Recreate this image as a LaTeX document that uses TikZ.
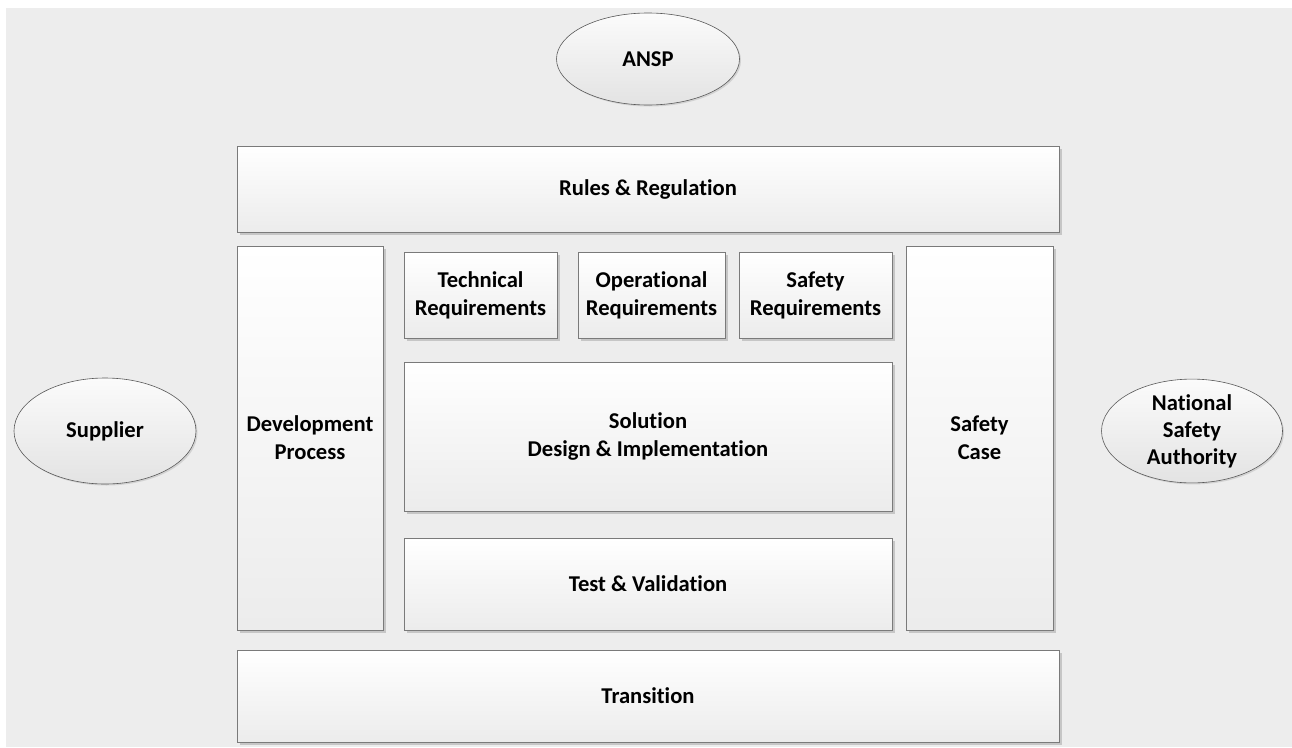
\documentclass[tikz,border=0pt]{standalone}
\usepackage{fontspec}
\setmainfont{Carlito}[Ligatures=NoCommon]
\usetikzlibrary{shapes.geometric,shadows}
\definecolor{bgcol}{HTML}{EDEDED}
\definecolor{edgecol}{HTML}{7A7A7A}
\begin{document}
\begin{tikzpicture}[x=1pt,y=-1pt,
    box/.style={rectangle,draw=edgecol,line width=1pt,top color=white,bottom color=gray!15,
      drop shadow={shadow xshift=2.5pt,shadow yshift=-2.5pt,fill=gray!45,opacity=1},
      inner sep=0pt,align=center,font=\bfseries\fontsize{22.6}{28}\selectfont},
    oval/.style={ellipse,draw=gray!70!black,line width=0.6pt,top color=gray!3,bottom color=gray!22,
      drop shadow={shadow xshift=1.5pt,shadow yshift=-1.5pt,fill=gray!35,opacity=1},
      inner sep=0pt,align=center,font=\bfseries\fontsize{22.6}{27}\selectfont}]
  \useasboundingbox (0,0) rectangle (1292,747);
  \fill[bgcol] (6,8) rectangle (1292,747);
  % outer parties
  \node[oval,minimum width=183,minimum height=92] (ansp) at (648,59) {ANSP};
  \node[oval,minimum width=182,minimum height=106] (supplier) at (105,431) {Supplier};
  \node[oval,minimum width=181,minimum height=103] (nsa) at (1192,431) {National\\Safety\\Authority};
  % frame
  \node[box,minimum width=822,minimum height=86] (rules) at (648,189) {Rules \& Regulation};
  \node[box,minimum width=146,minimum height=384] (devproc) at (310,438) {Development\\Process};
  \node[box,minimum width=147,minimum height=384] (safecase) at (979.5,438) {Safety\\Case};
  \node[box,minimum width=822,minimum height=92] (transition) at (648,696) {Transition};
  % inner blocks
  \node[box,minimum width=153,minimum height=86] (techreq) at (480.5,295) {Technical\\Requirements};
  \node[box,minimum width=147,minimum height=86] (opreq) at (651.5,295) {Operational\\Requirements};
  \node[box,minimum width=153,minimum height=86] (safereq) at (815.5,295) {Safety\\Requirements};
  \node[box,minimum width=488,minimum height=149] (solution) at (648,436.5) {Solution\\Design \& Implementation};
  \node[box,minimum width=488,minimum height=92] (test) at (648,584) {Test \& Validation};
\end{tikzpicture}
\end{document}
